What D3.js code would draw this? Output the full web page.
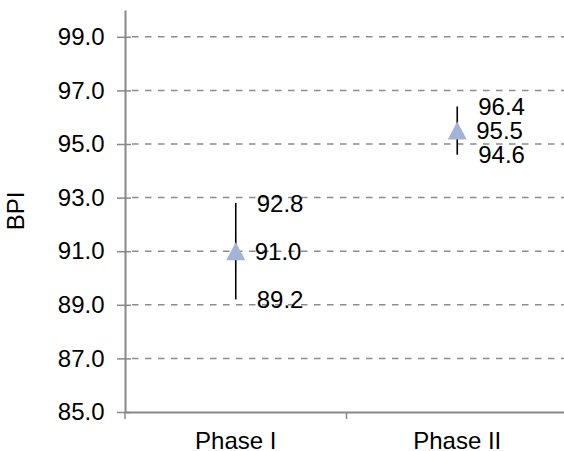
<!DOCTYPE html>
<html>
<head>
<meta charset="utf-8">
<script src="https://cdn.jsdelivr.net/npm/d3@7"></script>
<style>
    body { margin: 0; background: #fff; }
    text { font-family: "Liberation Sans", Arial, sans-serif; }
</style>
</head>
<body>
<div id="chart"></div>
<script>
// data
const phases = ['Phase I', 'Phase II'];
const means = [91.0, 95.5];
const highs = [92.8, 96.4];
const lows = [89.2, 94.6];
const yTicks = [85, 87, 89, 91, 93, 95, 97, 99];

const width = 564;
const height = 451;
const plotLeft = 125, plotTop = 10, plotRight = 568, plotBottom = 412;
const fontSize = 24;

const svg = d3.select('#chart').append('svg')
    .attr('width', width)
    .attr('height', height);

const x = d3.scaleBand().domain(phases).range([plotLeft, plotRight]);
const y = d3.scaleLinear().domain([85, 100]).range([plotBottom, plotTop]);

// dashed grid lines
svg.append('g')
    .selectAll('line')
    .data(yTicks.slice(1))
    .enter()
    .append('line')
    .attr('x1', plotLeft + 7)
    .attr('x2', width)
    .attr('y1', d => y(d))
    .attr('y2', d => y(d))
    .attr('stroke', '#8c8c8c')
    .attr('stroke-width', 1.5)
    .attr('stroke-dasharray', '6.5,6.5');

// y axis
const yAxis = svg.append('g')
    .attr('transform', `translate(${plotLeft},0)`)
    .call(d3.axisLeft(y).tickValues(yTicks).tickFormat(d3.format('.1f')).tickSizeInner(8).tickSizeOuter(0));
yAxis.select('.domain').attr('stroke', '#888').attr('stroke-width', 2);
yAxis.selectAll('.tick line').attr('stroke', '#888').attr('stroke-width', 1.5).attr('x2', -8).attr('x1', 6);
yAxis.selectAll('.tick text')
    .attr('x', -20.5)
    .attr('fill', '#000')
    .style('font-size', fontSize + 'px')
    .style('font-family', '"Liberation Sans", Arial, sans-serif');

// x axis
const xAxis = svg.append('g')
    .attr('transform', `translate(0,${plotBottom})`)
    .call(d3.axisBottom(x).tickSize(0).tickPadding(20));
xAxis.select('.domain').attr('stroke', '#888').attr('stroke-width', 2);
xAxis.selectAll('.tick text')
    .attr('fill', '#000')
    .attr('dy', '0.71em')
    .style('font-size', fontSize + 'px')
    .style('font-family', '"Liberation Sans", Arial, sans-serif');

// x axis separators between the categories
svg.append('g')
    .selectAll('line')
    .data([plotLeft, plotLeft + x.bandwidth()])
    .enter()
    .append('line')
    .attr('x1', d => d)
    .attr('x2', d => d)
    .attr('y1', plotBottom)
    .attr('y2', plotBottom + 7)
    .attr('stroke', '#888')
    .attr('stroke-width', 1.5);

// axis title
svg.append('text')
    .attr('transform', `translate(24,${(plotTop + plotBottom) / 2}) rotate(-90)`)
    .attr('text-anchor', 'middle')
    .style('font-size', fontSize + 'px')
    .text('BPI');

const cx = i => x(phases[i]) + x.bandwidth() / 2;

// error bars
svg.append('g')
    .selectAll('line')
    .data(phases)
    .enter()
    .append('line')
    .attr('x1', (d, i) => cx(i))
    .attr('x2', (d, i) => cx(i))
    .attr('y1', (d, i) => y(highs[i]))
    .attr('y2', (d, i) => y(lows[i]))
    .attr('stroke', '#000')
    .attr('stroke-width', 1.6);

// triangle markers
svg.append('g')
    .selectAll('path')
    .data(phases)
    .enter()
    .append('path')
    .attr('d', (d, i) => {
        const px = cx(i), py = y(means[i]);
        return `M${px},${py - 9}L${px + 9.5},${py + 9}L${px - 9.5},${py + 9}Z`;
    })
    .attr('fill', '#a2b3d6');

// value labels
const labels = [];
phases.forEach((p, i) => {
    labels.push({ i: i, v: highs[i], dx: 21 });
    labels.push({ i: i, v: means[i], dx: 19 });
    labels.push({ i: i, v: lows[i], dx: 21 });
});

svg.append('g')
    .selectAll('text')
    .data(labels)
    .enter()
    .append('text')
    .attr('x', d => cx(d.i) + d.dx)
    .attr('y', d => y(d.v))
    .attr('dy', '0.36em')
    .style('font-size', fontSize + 'px')
    .text(d => d.v.toFixed(1));
</script>
</body>
</html>
